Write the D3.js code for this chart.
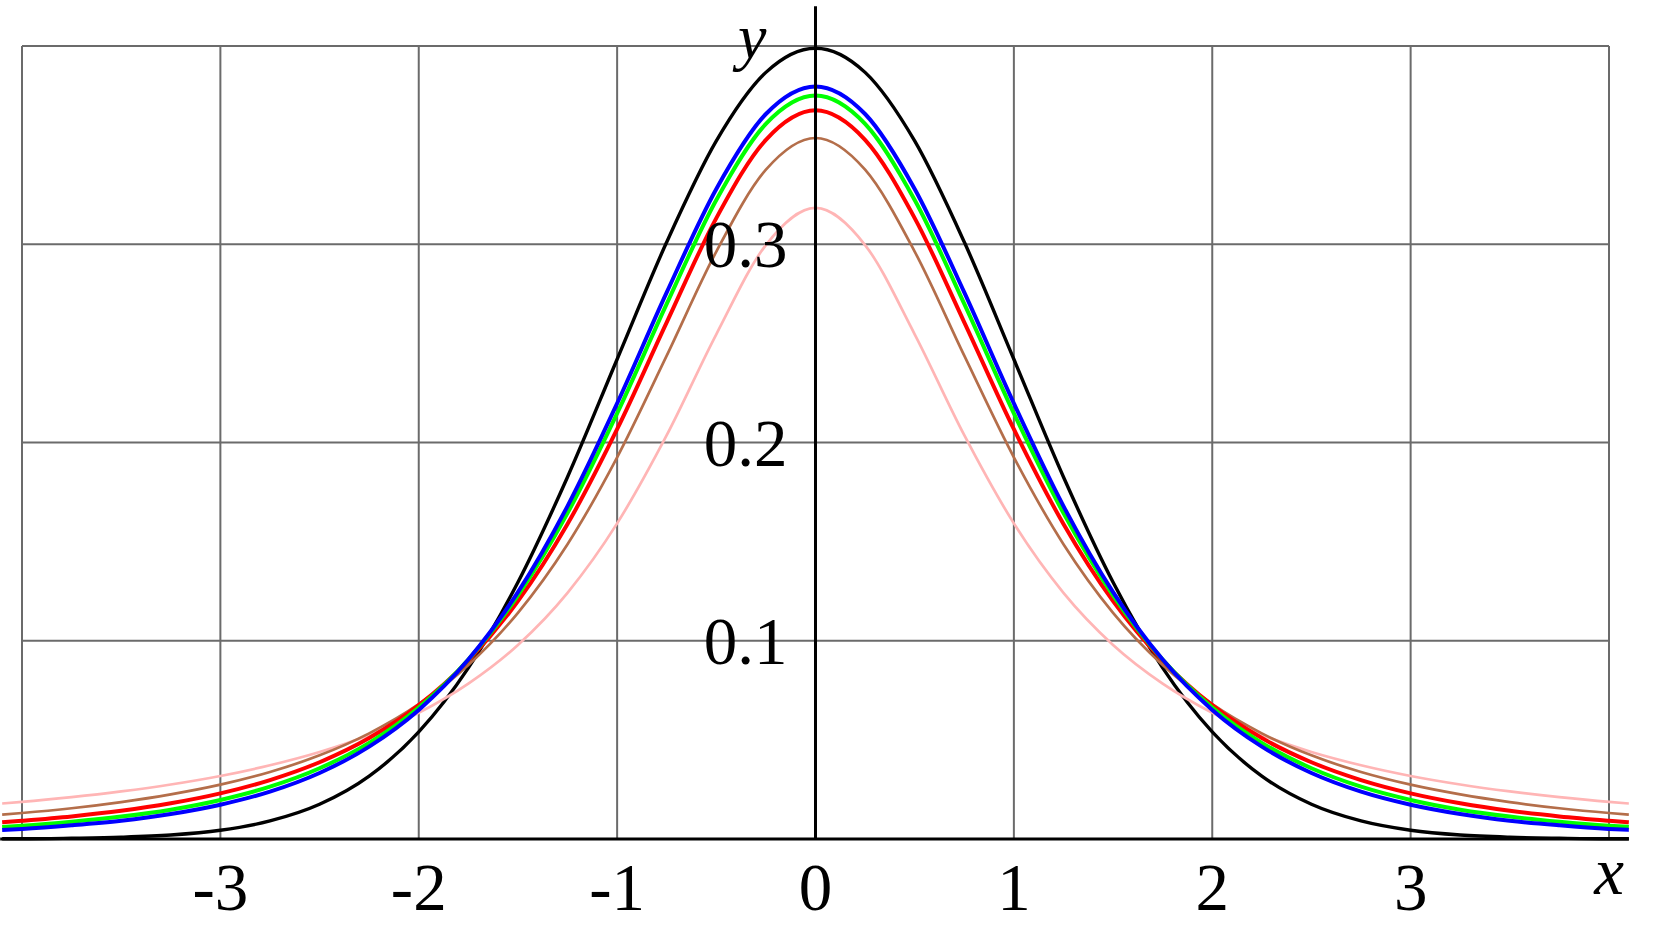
<!DOCTYPE html>
<html>
<head>
<meta charset="utf-8">
<script src="https://cdn.jsdelivr.net/npm/d3@7"></script>
<style>
  body { margin: 0; background: #fff; }
  text { font-family: "Liberation Serif", "DejaVu Serif", serif; fill: #000; }
</style>
</head>
<body>
<div id="chart-container"></div>
<script>
// CONSTANTS
const WIDTH = 1653;
const HEIGHT = 932;

// sample x positions of the curves
const xValues = [-4.1, -4, -3.75, -3.5, -3.25, -3, -2.75, -2.5, -2.25, -2, -1.75, -1.5, -1.25, -1, -0.75, -0.5, -0.25,
  0, 0.25, 0.5, 0.75, 1, 1.25, 1.5, 1.75, 2, 2.25, 2.5, 2.75, 3, 3.25, 3.5, 3.75, 4, 4.1];

// curve heights
const normalValues = [0.0001, 0.0001, 0.0004, 0.0009, 0.0020, 0.0044, 0.0091, 0.0175, 0.0317, 0.0540, 0.0863, 0.1295, 0.1826, 0.2420, 0.3011, 0.3521, 0.3867,
  0.3989, 0.3867, 0.3521, 0.3011, 0.2420, 0.1826, 0.1295, 0.0863, 0.0540, 0.0317, 0.0175, 0.0091, 0.0044, 0.0020, 0.0009, 0.0004, 0.0001, 0.0001];
const pinkValues = [0.0179, 0.0187, 0.0211, 0.0240, 0.0275, 0.0318, 0.0372, 0.0439, 0.0525, 0.0637, 0.0784, 0.0979, 0.1242, 0.1592, 0.2037, 0.2546, 0.2996,
  0.3183, 0.2996, 0.2546, 0.2037, 0.1592, 0.1242, 0.0979, 0.0784, 0.0637, 0.0525, 0.0439, 0.0372, 0.0318, 0.0275, 0.0240, 0.0211, 0.0187, 0.0179];
const brownValues = [0.0123, 0.0131, 0.0155, 0.0186, 0.0225, 0.0274, 0.0338, 0.0422, 0.0533, 0.0680, 0.0878, 0.1141, 0.1487, 0.1925, 0.2438, 0.2963, 0.3376,
  0.3536, 0.3376, 0.2963, 0.2438, 0.1925, 0.1487, 0.1141, 0.0878, 0.0680, 0.0533, 0.0422, 0.0338, 0.0274, 0.0225, 0.0186, 0.0155, 0.0131, 0.0123];
const redValues = [0.0084, 0.0092, 0.0114, 0.0142, 0.0180, 0.0230, 0.0297, 0.0387, 0.0509, 0.0675, 0.0900, 0.1200, 0.1589, 0.2067, 0.2606, 0.3132, 0.3527,
  0.3676, 0.3527, 0.3132, 0.2606, 0.2067, 0.1589, 0.1200, 0.0900, 0.0675, 0.0509, 0.0387, 0.0297, 0.0230, 0.0180, 0.0142, 0.0114, 0.0092, 0.0084];
const greenValues = [0.0061, 0.0067, 0.0087, 0.0113, 0.0148, 0.0197, 0.0264, 0.0357, 0.0485, 0.0663, 0.0905, 0.1229, 0.1644, 0.2147, 0.2699, 0.3223, 0.3607,
  0.3750, 0.3607, 0.3223, 0.2699, 0.2147, 0.1644, 0.1229, 0.0905, 0.0663, 0.0485, 0.0357, 0.0264, 0.0197, 0.0148, 0.0113, 0.0087, 0.0067, 0.0061];
const blueValues = [0.0046, 0.0051, 0.0069, 0.0092, 0.0126, 0.0173, 0.0239, 0.0333, 0.0466, 0.0651, 0.0905, 0.1245, 0.1679, 0.2197, 0.2757, 0.3279, 0.3657,
  0.3796, 0.3657, 0.3279, 0.2757, 0.2197, 0.1679, 0.1245, 0.0905, 0.0651, 0.0466, 0.0333, 0.0239, 0.0173, 0.0126, 0.0092, 0.0069, 0.0051, 0.0046];

// tick labels
const xTicks = [-3, -2, -1, 0, 1, 2, 3];
const xTickLabels = ["-3", "-2", "-1", "0", "1", "2", "3"];
const yTicks = [0.1, 0.2, 0.3];
const yTickLabels = ["0.1", "0.2", "0.3"];
const xGrid = [-4, -3, -2, -1, 0, 1, 2, 3, 4];
const yGrid = [0.1, 0.2, 0.3, 0.4];

// drawn bottom to top
const series = [
  { values: normalValues, color: "#000000", width: 3.4 },
  { values: pinkValues, color: "#ffb5b5", width: 2.7 },
  { values: brownValues, color: "#b46e4a", width: 2.7 },
  { values: redValues, color: "#ff0000", width: 4 },
  { values: greenValues, color: "#00ff00", width: 4 },
  { values: blueValues, color: "#0000ff", width: 4 }
];

const x = d3.scaleLinear().domain([-4, 4]).range([22, 1609]);
const y = d3.scaleLinear().domain([0, 0.4]).range([839, 46]);

const svg = d3.select("#chart-container")
  .append("svg")
  .attr("width", WIDTH)
  .attr("height", HEIGHT);

svg.append("rect")
  .attr("width", WIDTH)
  .attr("height", HEIGHT)
  .attr("fill", "#fff");

// GRID
const grid = svg.append("g")
  .attr("stroke", "#6b6b6b")
  .attr("stroke-width", 2);

grid.selectAll(".vline")
  .data(xGrid)
  .enter()
  .append("line")
  .attr("x1", d => x(d))
  .attr("x2", d => x(d))
  .attr("y1", y(0))
  .attr("y2", y(0.4));

grid.selectAll(".hline")
  .data(yGrid)
  .enter()
  .append("line")
  .attr("x1", x(-4))
  .attr("x2", x(4))
  .attr("y1", d => y(d))
  .attr("y2", d => y(d));

// CURVES
const lineGenerator = d3.line()
  .x((d, i) => x(xValues[i]))
  .y(d => y(d))
  .curve(d3.curveMonotoneX);

svg.append("g")
  .attr("fill", "none")
  .selectAll("path")
  .data(series)
  .enter()
  .append("path")
  .attr("d", d => lineGenerator(d.values))
  .attr("stroke", d => d.color)
  .attr("stroke-width", d => d.width)
  .attr("stroke-linejoin", "round");

// AXES
svg.append("line")
  .attr("x1", x(-4.11))
  .attr("x2", x(4.1))
  .attr("y1", y(0))
  .attr("y2", y(0))
  .attr("stroke", "#000")
  .attr("stroke-width", 3);

svg.append("line")
  .attr("x1", x(0))
  .attr("x2", x(0))
  .attr("y1", y(0))
  .attr("y2", y(0.42))
  .attr("stroke", "#000")
  .attr("stroke-width", 3);

// LABELS
svg.append("g")
  .selectAll("text")
  .data(xTicks)
  .enter()
  .append("text")
  .attr("x", d => x(d))
  .attr("y", 910)
  .attr("text-anchor", "middle")
  .attr("font-size", 67)
  .text((d, i) => xTickLabels[i]);

svg.append("g")
  .selectAll("text")
  .data(yTicks)
  .enter()
  .append("text")
  .attr("x", x(0) - 28)
  .attr("y", d => y(d) + 23)
  .attr("text-anchor", "end")
  .attr("font-size", 67)
  .text((d, i) => yTickLabels[i]);

svg.append("text")
  .attr("x", x(0) - 49)
  .attr("y", 58)
  .attr("text-anchor", "end")
  .attr("font-size", 64)
  .attr("font-style", "italic")
  .text("y");

svg.append("text")
  .attr("x", x(4))
  .attr("y", 894)
  .attr("text-anchor", "middle")
  .attr("font-size", 67)
  .attr("font-style", "italic")
  .text("x");
</script>
</body>
</html>
